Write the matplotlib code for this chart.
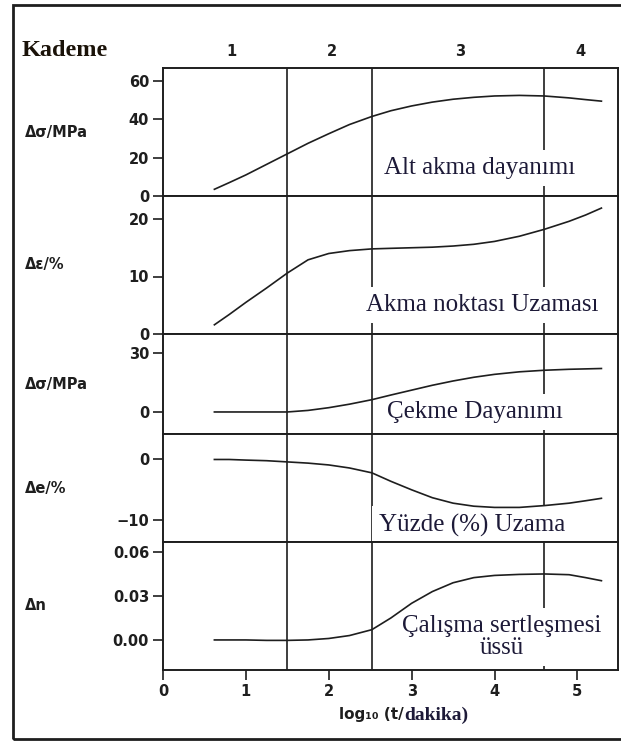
import matplotlib

matplotlib.use("Agg")
import matplotlib.pyplot as plt
from matplotlib.patches import Rectangle
from matplotlib.transforms import blended_transform_factory

# ageing time (log10 of minutes) shared by all five curves
log_t = [0.62, 0.8, 1.0, 1.25, 1.5, 1.75, 2.0, 2.25, 2.52, 2.75, 3.0,
         3.25, 3.5, 3.75, 4.0, 4.3, 4.6, 4.9, 5.1, 5.29]

lower_yield = [3.5, 7.0, 11.0, 16.5, 22.0, 27.5, 32.5, 37.3, 41.5, 44.5, 47.0,
               49.0, 50.5, 51.5, 52.2, 52.5, 52.2, 51.2, 50.3, 49.5]
yield_elong = [1.6, 3.4, 5.5, 8.0, 10.6, 12.9, 14.0, 14.5, 14.8, 14.9, 15.0,
               15.1, 15.3, 15.6, 16.1, 17.0, 18.2, 19.6, 20.7, 21.9]
tensile = [0.0, 0.0, 0.0, 0.0, 0.0, 0.8, 2.2, 4.0, 6.3, 8.7, 11.2,
           13.7, 15.9, 17.8, 19.3, 20.6, 21.4, 21.9, 22.1, 22.3]
elongation = [0.0, 0.0, -0.1, -0.2, -0.4, -0.6, -0.9, -1.4, -2.2, -3.6, -5.0,
              -6.3, -7.2, -7.7, -7.9, -7.9, -7.6, -7.2, -6.8, -6.4]
hardening_n = [0.0, 0.0, 0.0, -0.0003, -0.0003, 0.0, 0.001, 0.003, 0.007, 0.015, 0.025,
               0.033, 0.039, 0.0425, 0.044, 0.0447, 0.045, 0.0445, 0.0425, 0.0404]

stage_edges = [1.5, 2.52, 4.6]
stage_names = ["1", "2", "3", "4"]
stage_name_x = [0.82, 2.04, 3.58, 5.04]

panels = [
    dict(y=lower_yield, ylabel="Δσ/MPa", ylim=(0, 66.8), ticks=[0, 20, 40, 60],
         fmt="{:.0f}", title="Alt akma dayanımı", tpos=(0.695, 0.22), px=(68, 196)),
    dict(y=yield_elong, ylabel="Δε/%", ylim=(0, 24), ticks=[0, 10, 20],
         fmt="{:.0f}", title="Akma noktası Uzaması", tpos=(0.701, 0.21), px=(196, 334)),
    dict(y=tensile, ylabel="Δσ/MPa", ylim=(-11.3, 40), ticks=[0, 30],
         fmt="{:.0f}", title="Çekme Dayanımı", tpos=(0.686, 0.22), px=(334, 434)),
    dict(y=elongation, ylabel="Δe/%", ylim=(-13.6, 4.2), ticks=[-10, 0],
         fmt="{:.0f}", title="Yüzde (%) Uzama", tpos=(0.679, 0.157), px=(434, 542)),
    dict(y=hardening_n, ylabel="Δn", ylim=(-0.0205, 0.0668), ticks=[0.0, 0.03, 0.06],
         fmt="{:.2f}", title="Çalışma sertleşmesi\nüssü", tpos=(0.745, 0.258), px=(542, 670)),
]

W, H = 621, 742
ink = "#1e1e1e"
label_ink = "#1d1a38"
plotter = ["DejaVu Sans"]
serif = ["Liberation Serif", "DejaVu Serif"]

fig = plt.figure(figsize=(W / 100, H / 100), dpi=100)
fig.patch.set_facecolor("white")

left, right = 163, 618
axes = []
for p in panels:
    top_px, bot_px = p["px"]
    ax = fig.add_axes([left / W, (H - bot_px) / H, (right - left) / W, (bot_px - top_px) / H])
    ax.plot(log_t, p["y"], color=ink, lw=1.2, zorder=6)
    for edge in stage_edges:
        ax.axvline(edge, color=ink, lw=1.2, zorder=2)
    ax.set_xlim(0, 5.49)
    ax.set_ylim(*p["ylim"])
    ax.set_yticks(p["ticks"])
    ax.set_yticklabels([p["fmt"].format(v).replace("-", "\u2212") for v in p["ticks"]],
                       family=plotter, fontweight="bold", fontsize=10.5, color=ink)
    ax.tick_params(axis="y", direction="out", length=7, width=1.2, pad=3, colors=ink)
    ax.tick_params(axis="x", bottom=False, labelbottom=False)
    for s in ax.spines.values():
        s.set_linewidth(1.4)
        s.set_color(ink)
        s.set_zorder(7)
    ax.set_ylabel(p["ylabel"], rotation=0, ha="left", va="center",
                  family=plotter, fontweight="bold", fontsize=10.5, color=ink)
    ax.yaxis.set_label_coords((25 - left) / (right - left), 0.5)
    ax.text(p["tpos"][0], p["tpos"][1], p["title"], transform=ax.transAxes,
            ha="center", va="center", multialignment="center", linespacing=1.05,
            family=serif, fontsize=18, color=label_ink, zorder=5,
            bbox=dict(boxstyle="square,pad=0.28", fc="white", ec="none"))
    axes.append(ax)

bottom = axes[-1]
bottom.set_xticks(range(6))
bottom.set_xticklabels([str(v) for v in range(6)], family=plotter, fontweight="bold",
                       fontsize=10.5, color=ink)
bottom.tick_params(axis="x", bottom=True, labelbottom=True, direction="out",
                   length=7, width=1.2, pad=3, colors=ink)

# axis title: plotter lettering followed by a bold serif word
split_x = 404 / W
fig.text(split_x, (H - 715) / H, "log₁₀ (t/", ha="right", va="center",
         family=plotter, fontweight="bold", fontsize=11, color=ink)
fig.text(split_x, (H - 715) / H, "dakika)", ha="left", va="center",
         family=serif, fontweight="bold", fontsize=14, color=label_ink)

# stage row above the top panel
fig.text(22 / W, (H - 50) / H, "Kademe", ha="left", va="center",
         family=serif, fontweight="bold", fontsize=17.5, color="#1a1208")
top = axes[0]
trans = blended_transform_factory(top.transData, fig.transFigure)
for name, xpos in zip(stage_names, stage_name_x):
    top.text(xpos, (H - 52) / H, name, transform=trans, ha="center", va="center",
             family=plotter, fontweight="bold", fontsize=10.5, color=ink, clip_on=False)

# outer frame
fig.patches.append(Rectangle((13 / W, 3 / H), 1.0, (739 - 5) / H, transform=fig.transFigure,
                             fill=False, lw=2.0, ec=ink))

fig.savefig("out.png", dpi=100, facecolor="white")
